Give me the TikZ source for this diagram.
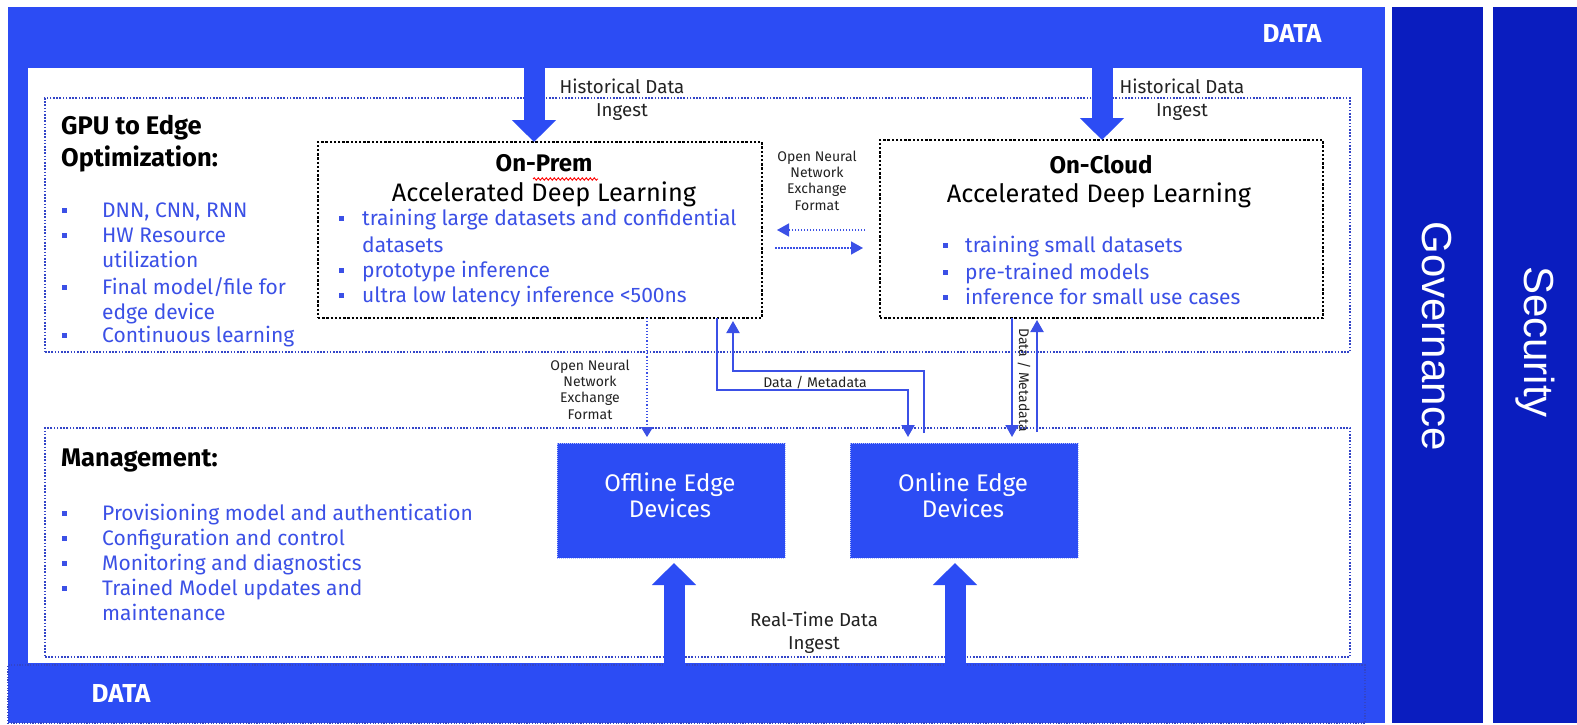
\documentclass[tikz,border=0pt]{standalone}
\usepackage{fontspec}
\setmainfont{Fira Sans}
\newfontfamily\govfont{Liberation Sans}
\usetikzlibrary{arrows.meta,decorations.pathmorphing}
\definecolor{lblue}{HTML}{2C4CF4}
\definecolor{dblue}{HTML}{0A1DBF}
\definecolor{tblue}{HTML}{3B50E6}
\definecolor{sblue}{HTML}{3345C8}
\definecolor{lbltext}{HTML}{222222}
\tikzset{
  panel/.style={inner sep=0pt, outer sep=0pt, anchor=north west},
  secbox/.style={panel, draw=sblue, line width=1.6pt, dash pattern=on 1.6pt off 1.6pt},
  mlbox/.style={panel, draw=black, line width=2.4pt, dash pattern=on 2.4pt off 1.8pt, fill=white},
  edgebox/.style={panel, fill=lblue, draw=white!65!lblue, line width=1pt, dash pattern=on 1pt off 1pt},
  colbox/.style={panel, fill=dblue},
  bigarrow/.style={draw=lblue, line width=21pt, -{Triangle[width=43pt,length=22pt]}},
  thinarrow/.style={draw=tblue, line width=2pt, -{Triangle[width=13pt,length=12pt]}},
  onnxarrow/.style={draw=tblue, line width=1.5pt, dash pattern=on 1.5pt off 1.5pt, -{Triangle[width=13pt,length=12pt]}},
  onnxdown/.style={draw=tblue, line width=1.2pt, dash pattern=on 1.2pt off 2pt, -{Triangle[width=12pt,length=10pt]}},
  bulsq/.style={fill=tblue, minimum size=5pt, inner sep=0pt, outer sep=0pt},
  btext/.style={text=tblue, font=\fontsize{21}{25}\selectfont, anchor=base west, inner sep=0pt},
  head/.style={font=\fontsize{25.5}{32}\selectfont\bfseries, anchor=base west, align=left, inner sep=0pt},
  lbl/.style={text=lbltext, font=\fontsize{14}{16.3}\selectfont, align=center, inner sep=0pt, anchor=base},
  midlbl/.style={text=lbltext, font=\fontsize{18.7}{23}\selectfont, align=center, inner sep=0pt, anchor=base},
  datatext/.style={text=white, font=\fontsize{26}{30}\selectfont\bfseries, inner sep=0pt},
  coltext/.style={text=white, font=\govfont\fontsize{42}{46}\selectfont, rotate=-90, inner sep=0pt},
  edgetext/.style={text=white, font=\fontsize{24}{26}\selectfont, align=center, inner sep=0pt},
  ttl/.style={font=\fontsize{24}{28}\selectfont\bfseries, anchor=base, inner sep=0pt},
  sub/.style={font=\fontsize{25.3}{28}\selectfont, anchor=base, inner sep=0pt}
}
\begin{document}
\begin{tikzpicture}[x=1pt,y=-1pt]
\useasboundingbox (0,0) rectangle (1577,725);
\fill[white] (0,0) rectangle (1577,725);

% outer data frame
\node[panel, fill=lblue, minimum width=1377pt, minimum height=716pt] (outer) at (8,7) {};
\node[panel, fill=white, minimum width=1334pt, minimum height=595pt] (inner) at (28,68) {};
\node[panel, fill=lblue, draw=sblue, line width=1.2pt, dash pattern=on 1.2pt off 1.5pt, minimum width=1357pt, minimum height=58pt] (bottomband) at (8,665) {};
\node[datatext] (datatop) at (1292,33) {DATA};
\node[datatext] (databot) at (121,693) {DATA};

% governance / security
\node[colbox, minimum width=91pt, minimum height=716pt] (gov) at (1392,7) {};
\node[colbox, minimum width=84pt, minimum height=716pt] (sec) at (1493,7) {};
\node[coltext] at (1437,336) {Governance};
\node[coltext] at (1535,342) {Security};

% sections
\node[secbox, minimum width=1305pt, minimum height=254pt] (gpusec) at (45,98) {};
\node[secbox, minimum width=1305pt, minimum height=229pt] (mgmtsec) at (45,428) {};

% GPU to Edge text
\node[head] (gpuhead) at (61,166) {GPU to Edge\\Optimization:};
\foreach \yy in {210,235,287,335} \node[bulsq] at (64,\yy) {};
\node[btext] at (102,217) {DNN, CNN, RNN};
\node[btext] at (102,242) {HW Resource};
\node[btext] at (102,267) {utilization};
\node[btext] at (102,294) {Final model/file for};
\node[btext] at (102,319) {edge device};
\node[btext] at (102,342) {Continuous learning};

% Management text
\node[head] (mgmthead) at (61,466) {Management:};
\foreach \yy in {513,538,563,588} \node[bulsq] at (64,\yy) {};
\node[btext] at (102,520) {Provisioning model and authentication};
\node[btext] at (102,545) {Configuration and control};
\node[btext] at (102,570) {Monitoring and diagnostics};
\node[btext] at (102,595) {Trained Model updates and};
\node[btext] at (102,620) {maintenance};

% On-Prem box
\node[mlbox, minimum width=444pt, minimum height=176pt] (onprem) at (318,142) {};
\node[ttl] (onpremtitle) at (544,171) {On-Prem};
\draw[red, line width=0.9pt, decorate, decoration={snake, segment length=4pt, amplitude=1.2pt}] (533,179) -- (598,179);
\node[sub] at (544,201) {Accelerated Deep Learning};
\foreach \yy in {218,270,295} \node[bulsq] at (341,\yy) {};
\node[btext] at (362,225) {training large datasets and confidential};
\node[btext] at (362,252) {datasets};
\node[btext] at (362,277) {prototype inference};
\node[btext] at (362,302) {ultra low latency inference <500ns};

% On-Cloud box
\node[mlbox, minimum width=443pt, minimum height=178pt] (oncloud) at (880,140) {};
\node[ttl] at (1101,173) {On-Cloud};
\node[sub] at (1099,202) {Accelerated Deep Learning};
\foreach \yy in {245,272,297} \node[bulsq] at (945,\yy) {};
\node[btext] at (965,252) {training small datasets};
\node[btext] at (965,279) {pre-trained models};
\node[btext] at (965,304) {inference for small use cases};

% Edge devices
\node[edgebox, minimum width=228pt, minimum height=115pt] (offline) at (557,443) {};
\node[edgebox, minimum width=228pt, minimum height=115pt] (online) at (850,443) {};
\node[edgetext] at (670,495) {Offline Edge\\Devices};
\node[edgetext] at (963,495) {Online Edge\\Devices};

% historical data ingest arrows
\coordinate (h1) at (534,60);
\coordinate (h2) at (1102,60);
\draw[bigarrow] (h1) -- (h1 |- onprem.north);
\draw[bigarrow] (h2) -- (h2 |- oncloud.north);
\node[midlbl] at (622,116) {Historical Data\\Ingest};
\node[midlbl] at (1182,116) {Historical Data\\Ingest};

% real-time data ingest arrows
\coordinate (r1) at (674,672);
\coordinate (r2) at (955,672);
\draw[bigarrow] (r1) -- ([yshift=-5pt]r1 |- offline.south);
\draw[bigarrow] (r2) -- ([yshift=-5pt]r2 |- online.south);
\node[midlbl] at (814,649) {Real-Time Data\\Ingest};

% ONNX between boxes
\node[lbl] at (817,210) {Open Neural\\Network\\Exchange\\Format};
\coordinate (x1) at (865,230);
\coordinate (x2) at (777,230);
\coordinate (x3) at (775,248);
\coordinate (x4) at (863,248);
\draw[onnxarrow] (x1) -- (x2);
\draw[onnxarrow] (x3) -- (x4);

% ONNX down to offline
\coordinate (ox) at (647,0);
\draw[onnxdown] (onprem.south -| ox) -- ([yshift=6pt]offline.north -| ox);
\node[lbl] at (590,419) {Open Neural\\Network\\Exchange\\Format};

% Data / Metadata on-prem <-> online
\coordinate (d1) at (717,390);
\coordinate (d2) at (908,390);
\coordinate (u1) at (924,371);
\coordinate (u2) at (733,371);
\draw[thinarrow] (onprem.south -| d1) -- (d1) -- (d2) -- ([yshift=6pt]online.north -| d2);
\draw[thinarrow] ([yshift=10pt]online.north -| u1) -- (u1) -- (u2) -- ([yshift=-3pt]onprem.south -| u2);
\node[lbl] at (815,387) {Data / Metadata};

% Data / Metadata on-cloud <-> online
\coordinate (c1) at (1012,0);
\coordinate (c2) at (1037,0);
\draw[thinarrow] (oncloud.south -| c1) -- ([yshift=6pt]online.north -| c1);
\draw[thinarrow] ([yshift=11pt]online.north -| c2) -- ([yshift=-2pt]oncloud.south -| c2);
\node[text=lbltext, font=\fontsize{14}{16}\selectfont, rotate=-90, inner sep=0pt] at (1024,380) {Data / Metadata};
\end{tikzpicture}
\end{document}
